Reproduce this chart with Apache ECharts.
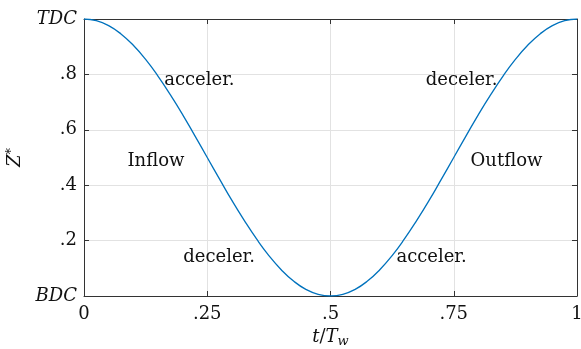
<!DOCTYPE html>
<html>
<head>
<meta charset="UTF-8">
<script type="text/javascript" src="https://cdn.jsdelivr.net/npm/echarts@6/dist/echarts.min.js"></script>
<style>
  html, body { margin: 0; padding: 0; background: #fff; }
</style>
</head>
<body>
<div id="chartmain" style="width:581px; height:349px;"></div>
<script type="text/javascript">
// t / T_w samples and piston position Z*
var tValues = [0, 0.025, 0.05, 0.075, 0.1, 0.125, 0.15, 0.175, 0.2, 0.225,
               0.25, 0.275, 0.3, 0.325, 0.35, 0.375, 0.4, 0.425, 0.45, 0.475,
               0.5, 0.525, 0.55, 0.575, 0.6, 0.625, 0.65, 0.675, 0.7, 0.725,
               0.75, 0.775, 0.8, 0.825, 0.85, 0.875, 0.9, 0.925, 0.95, 0.975, 1];
var zValues = [1, 0.994, 0.976, 0.946, 0.905, 0.854, 0.794, 0.727, 0.655, 0.578,
               0.5, 0.422, 0.345, 0.273, 0.206, 0.146, 0.095, 0.054, 0.024, 0.006,
               0, 0.006, 0.024, 0.054, 0.095, 0.146, 0.206, 0.273, 0.345, 0.422,
               0.5, 0.578, 0.655, 0.727, 0.794, 0.854, 0.905, 0.946, 0.976, 0.994, 1];

var xTickLabels = ['0', '.25', '.5', '.75', '1'];
var yTickLabels = ['BDC', '.2', '.4', '.6', '.8', 'TDC'];

// text annotations inside the plot: [t, Z*, text]
var notes = [
  [0.234, 0.78, 'acceler.'],
  [0.766, 0.78, 'deceler.'],
  [0.146, 0.487, 'Inflow'],
  [0.857, 0.487, 'Outflow'],
  [0.274, 0.141, 'deceler.'],
  [0.705, 0.141, 'acceler.']
];

var serif = '"DejaVu Serif", "Liberation Serif", serif';
var axisColor = '#333333';
var textColor = '#111111';
var fs = 18;

var curve = [];
for (var i = 0; i < tValues.length; i++) {
  curve.push([tValues[i], zValues[i]]);
}

var option = {
  animation: false,
  backgroundColor: '#ffffff',
  grid: { left: 84, right: 4, top: 19, bottom: 53, outerBoundsMode: 'none', containLabel: false },
  xAxis: [
    {
      type: 'value', min: 0, max: 1, interval: 0.25,
      name: '{i|t}{n|/}{i|T}{s|w}',
      nameLocation: 'middle', nameGap: 30,
      nameTextStyle: {
        rich: {
          i: { fontFamily: serif, fontStyle: 'italic', fontSize: fs, color: textColor },
          n: { fontFamily: serif, fontSize: fs, color: textColor },
          s: { fontFamily: serif, fontStyle: 'italic', fontSize: 13, color: textColor, padding: [9, 0, 0, 0] }
        }
      },
      axisLine: { show: true, lineStyle: { color: axisColor, width: 1 } },
      axisTick: { show: true, inside: true, length: 5, lineStyle: { color: axisColor } },
      axisLabel: {
        margin: 9, fontFamily: serif, fontSize: fs, color: textColor,
        formatter: function (v) { return xTickLabels[Math.round(v / 0.25)]; }
      },
      splitLine: { show: true, lineStyle: { color: '#e2e2e2', width: 1 } }
    },
    {
      type: 'value', min: 0, max: 1, interval: 0.25, position: 'top',
      axisLine: { show: true, onZero: false, lineStyle: { color: axisColor, width: 1 } },
      axisTick: { show: true, inside: true, length: 5, lineStyle: { color: axisColor } },
      axisLabel: { show: false },
      splitLine: { show: false }
    }
  ],
  yAxis: [
    {
      type: 'value', min: 0, max: 1, interval: 0.2,
      name: '{i|Z}{s|*}',
      nameLocation: 'middle', nameGap: 54, nameRotate: 90,
      nameTextStyle: {
        rich: {
          i: { fontFamily: serif, fontStyle: 'italic', fontSize: fs, color: textColor },
          s: { fontFamily: serif, fontSize: 13, color: textColor, padding: [0, 0, 9, 0] }
        }
      },
      axisLine: { show: true, lineStyle: { color: axisColor, width: 1 } },
      axisTick: { show: true, inside: true, length: 5, lineStyle: { color: axisColor } },
      axisLabel: {
        margin: 7,
        formatter: function (v) {
          var s = yTickLabels[Math.round(v / 0.2)];
          return (s === 'TDC' || s === 'BDC') ? '{i|' + s + '}' : '{n|' + s + '}';
        },
        rich: {
          i: { fontFamily: serif, fontStyle: 'italic', fontSize: fs, color: textColor },
          n: { fontFamily: serif, fontSize: fs, color: textColor }
        }
      },
      splitLine: { show: true, lineStyle: { color: '#e2e2e2', width: 1 } }
    },
    {
      type: 'value', min: 0, max: 1, interval: 0.2, position: 'right',
      axisLine: { show: true, onZero: false, lineStyle: { color: axisColor, width: 1 } },
      axisTick: { show: true, inside: true, length: 5, lineStyle: { color: axisColor } },
      axisLabel: { show: false },
      splitLine: { show: false }
    }
  ],
  series: [
    {
      type: 'line',
      data: curve,
      smooth: true,
      showSymbol: false,
      lineStyle: { color: '#0072BD', width: 1.3 },
      z: 3
    },
    {
      type: 'scatter',
      symbolSize: 0,
      itemStyle: { opacity: 1 },
      data: notes.map(function (n) { return { value: [n[0], n[1]], name: n[2] }; }),
      label: {
        show: true, position: 'inside',
        formatter: function (p) { return p.name; },
        fontFamily: serif, fontSize: fs, color: textColor
      },
      silent: true,
      z: 4
    }
  ]
};

var myChart = echarts.init(document.getElementById('chartmain'));
myChart.setOption(option);
</script>
</body>
</html>
